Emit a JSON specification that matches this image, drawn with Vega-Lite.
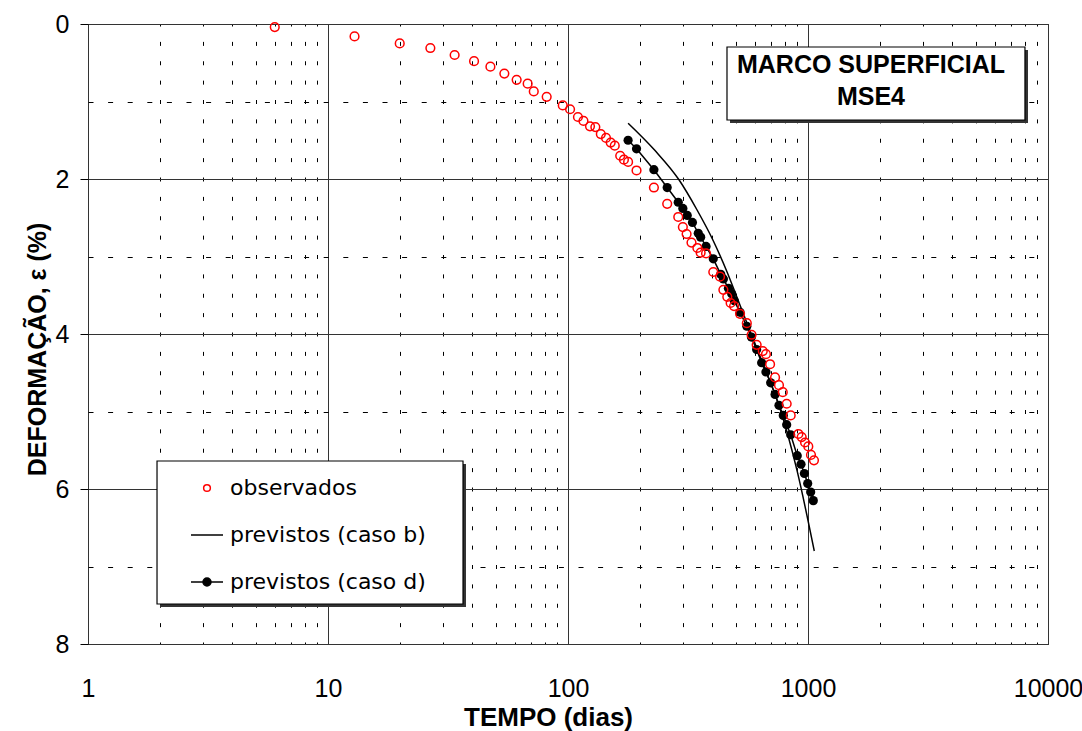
{
"$schema":"https://vega.github.io/schema/vega-lite/v6.json",
"width":960,"height":620,
"autosize":"none",
"padding":{"left":88,"top":24,"right":34,"bottom":87},
"background":"white",
"config":{"view":{"stroke":"#000","strokeWidth":1},"axis":{"labelColor":"#000","titleColor":"#000"}},
"datasets":{
"pontos":[
{"serie":"observados","t":6.0,"d":0.04},{"serie":"observados","t":12.9,"d":0.16},{"serie":"observados","t":19.9,"d":0.25},{"serie":"observados","t":26.7,"d":0.31},{"serie":"observados","t":33.7,"d":0.40},{"serie":"observados","t":40.6,"d":0.48},{"serie":"observados","t":47.5,"d":0.55},{"serie":"observados","t":54.3,"d":0.64},{"serie":"observados","t":61.1,"d":0.72},{"serie":"observados","t":67.9,"d":0.77},{"serie":"observados","t":72.0,"d":0.87},{"serie":"observados","t":81.5,"d":0.94},{"serie":"observados","t":95.1,"d":1.05},{"serie":"observados","t":102,"d":1.10},{"serie":"observados","t":110,"d":1.20},{"serie":"observados","t":116,"d":1.25},{"serie":"observados","t":123.5,"d":1.32},{"serie":"observados","t":130,"d":1.33},{"serie":"observados","t":137,"d":1.42},{"serie":"observados","t":144,"d":1.47},{"serie":"observados","t":150.6,"d":1.53},{"serie":"observados","t":156.6,"d":1.57},{"serie":"observados","t":165,"d":1.70},{"serie":"observados","t":171,"d":1.75},{"serie":"observados","t":178,"d":1.78},{"serie":"observados","t":193,"d":1.89},{"serie":"observados","t":228,"d":2.11},{"serie":"observados","t":259,"d":2.32},{"serie":"observados","t":288,"d":2.49},{"serie":"observados","t":301,"d":2.62},{"serie":"observados","t":312,"d":2.71},{"serie":"observados","t":327,"d":2.82},{"serie":"observados","t":346,"d":2.89},{"serie":"observados","t":357,"d":2.95},{"serie":"observados","t":376,"d":2.96},{"serie":"observados","t":403,"d":3.20},{"serie":"observados","t":430,"d":3.26},{"serie":"observados","t":444,"d":3.43},{"serie":"observados","t":461,"d":3.52},{"serie":"observados","t":476,"d":3.60},{"serie":"observados","t":492,"d":3.64},{"serie":"observados","t":521,"d":3.74},{"serie":"observados","t":556,"d":3.86},{"serie":"observados","t":582,"d":4.01},{"serie":"observados","t":611,"d":4.14},{"serie":"observados","t":648,"d":4.22},{"serie":"observados","t":668,"d":4.26},{"serie":"observados","t":695,"d":4.39},{"serie":"observados","t":729,"d":4.56},{"serie":"observados","t":757,"d":4.66},{"serie":"observados","t":785,"d":4.75},{"serie":"observados","t":815,"d":4.90},{"serie":"observados","t":847,"d":5.05},{"serie":"observados","t":912,"d":5.29},{"serie":"observados","t":941,"d":5.33},{"serie":"observados","t":972,"d":5.40},{"serie":"observados","t":1003,"d":5.45},{"serie":"observados","t":1029,"d":5.56},{"serie":"observados","t":1059,"d":5.63},
{"serie":"previstos (caso b)","t":178,"d":1.28},{"serie":"previstos (caso b)","t":230,"d":1.63},{"serie":"previstos (caso b)","t":290,"d":2.01},{"serie":"previstos (caso b)","t":345,"d":2.40},{"serie":"previstos (caso b)","t":402,"d":2.79},{"serie":"previstos (caso b)","t":460,"d":3.20},{"serie":"previstos (caso b)","t":521,"d":3.63},{"serie":"previstos (caso b)","t":585,"d":4.03},{"serie":"previstos (caso b)","t":668,"d":4.48},{"serie":"previstos (caso b)","t":764,"d":4.96},{"serie":"previstos (caso b)","t":900,"d":5.76},{"serie":"previstos (caso b)","t":1062,"d":6.80},
{"serie":"previstos (caso d)","t":178,"d":1.50},{"serie":"previstos (caso d)","t":193,"d":1.61},{"serie":"previstos (caso d)","t":228,"d":1.88},{"serie":"previstos (caso d)","t":259,"d":2.11},{"serie":"previstos (caso d)","t":288,"d":2.30},{"serie":"previstos (caso d)","t":301,"d":2.38},{"serie":"previstos (caso d)","t":314,"d":2.47},{"serie":"previstos (caso d)","t":330,"d":2.56},{"serie":"previstos (caso d)","t":349,"d":2.70},{"serie":"previstos (caso d)","t":357,"d":2.75},{"serie":"previstos (caso d)","t":376,"d":2.87},{"serie":"previstos (caso d)","t":403,"d":3.03},{"serie":"previstos (caso d)","t":433,"d":3.23},{"serie":"previstos (caso d)","t":444,"d":3.29},{"serie":"previstos (caso d)","t":466,"d":3.41},{"serie":"previstos (caso d)","t":481,"d":3.48},{"serie":"previstos (caso d)","t":493,"d":3.57},{"serie":"previstos (caso d)","t":521,"d":3.72},{"serie":"previstos (caso d)","t":556,"d":3.90},{"serie":"previstos (caso d)","t":581,"d":4.04},{"serie":"previstos (caso d)","t":611,"d":4.20},{"serie":"previstos (caso d)","t":641,"d":4.37},{"serie":"previstos (caso d)","t":668,"d":4.49},{"serie":"previstos (caso d)","t":699,"d":4.63},{"serie":"previstos (caso d)","t":729,"d":4.78},{"serie":"previstos (caso d)","t":757,"d":4.92},{"serie":"previstos (caso d)","t":789,"d":5.05},{"serie":"previstos (caso d)","t":815,"d":5.17},{"serie":"previstos (caso d)","t":847,"d":5.30},{"serie":"previstos (caso d)","t":902,"d":5.57},{"serie":"previstos (caso d)","t":935,"d":5.68},{"serie":"previstos (caso d)","t":966,"d":5.80},{"serie":"previstos (caso d)","t":997,"d":5.93},{"serie":"previstos (caso d)","t":1026,"d":6.04},{"serie":"previstos (caso d)","t":1052,"d":6.15}
],
"caixas":[
{"tipo":"sombra","t":1.995,"t2":37.58,"d":5.677,"d2":7.523},
{"tipo":"sombra","t":473.2,"t2":8254,"d":0.335,"d2":1.277},
{"tipo":"caixa","t":1.939,"t2":36.52,"d":5.639,"d2":7.484},
{"tipo":"caixa","t":459.7,"t2":8017,"d":0.297,"d2":1.239}
],
"rotulos":[
{"texto":"MARCO SUPERFICIAL","t":1830,"d":0.529},
{"texto":"MSE4","t":1830,"d":0.948}
]
},
"layer":[
{
"data":{"name":"pontos"},
"transform":[{"filter":"datum.serie === 'previstos (caso b)'"}],
"mark":{"type":"line","color":"#000","strokeWidth":1.5,"interpolate":"monotone"},
"encoding":{
"x":{"field":"t","type":"quantitative","scale":{"type":"log","domain":[1,10000]},"axis":null},
"y":{"field":"d","type":"quantitative","scale":{"domain":[0,8],"reverse":true,"nice":false,"zero":false},"axis":null}
}
},
{
"data":{"name":"pontos"},
"transform":[{"filter":"datum.serie === 'previstos (caso d)'"}],
"mark":{"type":"line","color":"#000","strokeWidth":1.5},
"encoding":{
"x":{"field":"t","type":"quantitative","scale":{"type":"log","domain":[1,10000]},"axis":null},
"y":{"field":"d","type":"quantitative","scale":{"domain":[0,8],"reverse":true,"nice":false,"zero":false},"axis":null}
}
},
{
"data":{"name":"pontos"},
"transform":[{"filter":"datum.serie === 'previstos (caso d)'"}],
"mark":{"type":"circle","size":85,"color":"#000","opacity":1},
"encoding":{
"x":{"field":"t","type":"quantitative","scale":{"type":"log","domain":[1,10000]},"axis":{"orient":"bottom","values":[2,3,4,5,6,7,8,9,20,30,40,50,60,70,80,90,200,300,400,500,600,700,800,900,2000,3000,4000,5000,6000,7000,8000,9000],"grid":true,"gridColor":"#000","gridWidth":1,"gridOpacity":1,"gridDash":[4,15.375],"gridDashOffset":2,"domain":false,"ticks":false,"labels":false,"title":null}},
"y":{"field":"d","type":"quantitative","scale":{"domain":[0,8],"reverse":true,"nice":false,"zero":false},"axis":{"orient":"left","values":[1,3,5,7],"grid":true,"gridColor":"#000","gridWidth":1,"gridOpacity":1,"gridDash":[5,14.6],"gridDashOffset":0,"domain":false,"ticks":false,"labels":false,"title":null}}
}
},
{
"data":{"name":"pontos"},
"transform":[{"filter":"datum.serie === 'observados'"}],
"mark":{"type":"point","size":1714,"strokeWidth":1.5,"opacity":1},
"encoding":{
"x":{"field":"t","type":"quantitative","scale":{"type":"log","domain":[1,10000]},"axis":{"orient":"bottom","values":[1,10,100,1000,10000],"format":"d","grid":true,"gridColor":"#333","gridWidth":1,"gridOpacity":1,"domain":false,"ticks":false,"tickSize":0,"labelFont":"Liberation Sans","labelFontSize":25,"labelPadding":52,"labelBaseline":"alphabetic","labelFlush":false,"labelOverlap":false,"title":"TEMPO (dias)","titleFont":"Liberation Sans","titleFontSize":26,"titleFontWeight":"bold","titleX":460,"titleY":81.5,"titleBaseline":"alphabetic","titleAlign":"center"}},
"y":{"field":"d","type":"quantitative","scale":{"domain":[0,8],"reverse":true,"nice":false,"zero":false},"axis":{"orient":"left","values":[0,2,4,6,8],"format":"d","grid":true,"gridColor":"#333","gridWidth":1,"gridOpacity":1,"domain":false,"ticks":true,"tickSize":8,"tickColor":"#000","tickWidth":1,"labelFont":"Liberation Sans","labelFontSize":25,"labelPadding":11,"labelBaseline":"middle","labelFlush":false,"labelOverlap":false,"title":"DEFORMAÇÃO, ε (%)","titleFont":"Liberation Sans","titleFontSize":25,"titleFontWeight":"bold","titleX":-43,"titleY":325,"titleBaseline":"alphabetic","titleAngle":-90,"titleAlign":"center"}},
"shape":{"field":"serie","type":"nominal","scale":{"domain":["observados","previstos (caso b)","previstos (caso d)"],"range":["M-0.21,0A0.21,0.21 0 1,0 0.21,0A0.21,0.21 0 1,0 -0.21,0Z","M-1,0H1","M-1,0H1M-0.25,0A0.25,0.25 0 1,0 0.25,0A0.25,0.25 0 1,0 -0.25,0Z"]},"legend":{"title":null,"orient":"none","legendX":102,"legendY":447,"padding":0,"symbolSize":1024,"symbolStrokeWidth":1.5,"labelFont":"DejaVu Sans","labelFontSize":22,"labelColor":"#000","labelOffset":6,"rowPadding":19,"labelLimit":400}},
"stroke":{"field":"serie","type":"nominal","scale":{"domain":["observados","previstos (caso b)","previstos (caso d)"],"range":["#ff0000","#000000","#000000"]},"legend":{"title":null,"orient":"none","legendX":102,"legendY":447,"padding":0,"symbolSize":1024,"symbolStrokeWidth":1.5,"labelFont":"DejaVu Sans","labelFontSize":22,"labelColor":"#000","labelOffset":6,"rowPadding":19,"labelLimit":400}},
"fill":{"field":"serie","type":"nominal","scale":{"domain":["observados","previstos (caso b)","previstos (caso d)"],"range":["transparent","transparent","#000000"]},"legend":{"title":null,"orient":"none","legendX":102,"legendY":447,"padding":0,"symbolSize":1024,"symbolStrokeWidth":1.5,"labelFont":"DejaVu Sans","labelFontSize":22,"labelColor":"#000","labelOffset":6,"rowPadding":19,"labelLimit":400}}
}
},
{
"data":{"name":"caixas"},
"transform":[{"filter":"datum.tipo === 'sombra'"}],
"mark":{"type":"rect","color":"#333","opacity":1},
"encoding":{
"x":{"field":"t","type":"quantitative","scale":{"type":"log","domain":[1,10000]},"axis":null},
"x2":{"field":"t2"},
"y":{"field":"d","type":"quantitative","scale":{"domain":[0,8],"reverse":true,"nice":false,"zero":false},"axis":null},
"y2":{"field":"d2"}
}
},
{
"data":{"name":"caixas"},
"transform":[{"filter":"datum.tipo === 'caixa'"}],
"mark":{"type":"rect","fill":"#fff","stroke":"#000","strokeWidth":1.2,"opacity":1},
"encoding":{
"x":{"field":"t","type":"quantitative","scale":{"type":"log","domain":[1,10000]},"axis":null},
"x2":{"field":"t2"},
"y":{"field":"d","type":"quantitative","scale":{"domain":[0,8],"reverse":true,"nice":false,"zero":false},"axis":null},
"y2":{"field":"d2"}
}
},
{
"data":{"name":"rotulos"},
"mark":{"type":"text","font":"Liberation Sans","fontSize":25,"fontWeight":"bold","align":"center","baseline":"middle","color":"#000"},
"encoding":{
"x":{"field":"t","type":"quantitative","scale":{"type":"log","domain":[1,10000]},"axis":null},
"y":{"field":"d","type":"quantitative","scale":{"domain":[0,8],"reverse":true,"nice":false,"zero":false},"axis":null},
"text":{"field":"texto"}
}
}
],
"resolve":{"axis":{"x":"independent","y":"independent"}}
}
